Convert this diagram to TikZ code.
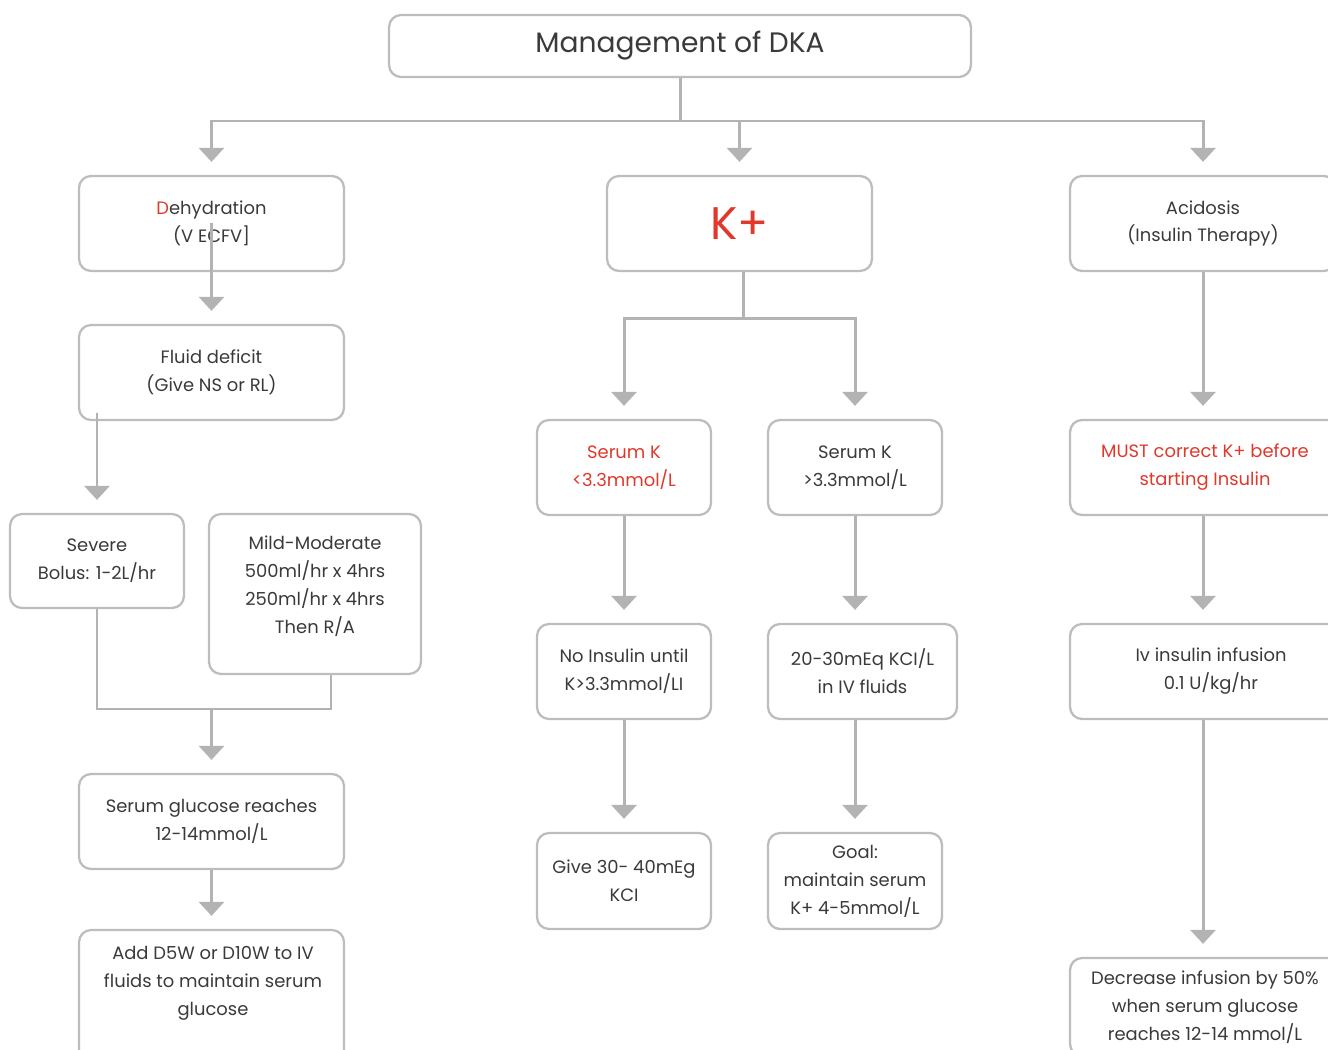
\documentclass[tikz,border=0pt]{standalone}
\usepackage{fontspec}
\setmainfont{Poppins}
\usetikzlibrary{arrows.meta}
\definecolor{linegray}{HTML}{B3B3B3}
\definecolor{boxgray}{HTML}{BDBDBD}
\definecolor{txtgray}{HTML}{3A3A3A}
\definecolor{alertred}{HTML}{E0392B}

\begin{document}
\begin{tikzpicture}[x=0.02cm, y=-0.02cm, >={Triangle[width=0.5cm,length=0.28cm]},
    txt/.style={align=center, text=txtgray, font=\fontsize{10.2}{15.9}\selectfont, inner sep=0pt},
    box/.style={txt, draw=boxgray, line width=1.3pt, rounded corners=0.24cm, fill=white},
    link/.style={draw=linegray, line width=1.7pt},
    arr/.style={link, ->, color=linegray, shorten >=0.26cm}]
    \useasboundingbox (0,0) rectangle (1328,1050);
    \clip (0,0) rectangle (1328,1050);

    % Title
    \node[box, minimum width=11.64cm, minimum height=1.24cm, font=\fontsize{16}{19}\selectfont] (title) at (680,46) {Management of DKA};

    % Fluids column
    \node[box, minimum width=5.3cm, minimum height=1.9cm] (dehyd) at (211.5,223.5) {\textcolor{alertred}{D}ehydration\\(V ECFV]};
    \node[box, minimum width=5.3cm, minimum height=1.9cm] (fluid) at (211.5,372.5) {Fluid deficit\\(Give NS or RL)};
    \node[box, minimum width=3.48cm, minimum height=1.88cm] (severe) at (97,561) {Severe\\Bolus: 1-2L/hr};
    \node[box, minimum width=4.24cm, minimum height=3.2cm] (mild) at (315,594) {};
    \node[txt] (mildtxt) at (315,586) {Mild-Moderate\\500ml/hr x 4hrs\\250ml/hr x 4hrs\\Then R/A};
    \node[box, minimum width=5.3cm, minimum height=1.9cm] (gluc) at (211.5,821.5) {Serum glucose reaches\\12-14mmol/L};
    \node[box, minimum width=5.3cm, minimum height=2.8cm] (add) at (211.5,1000) {};
    \node[txt] (addtxt) at (213,983) {Add D5W or D10W to IV\\fluids to maintain serum\\glucose};

    % Potassium column
    \node[box, minimum width=5.3cm, minimum height=1.9cm, font=\fontsize{26}{30}\selectfont, text=alertred] (kplus) at (739.5,223.5) {K+};
    \node[box, minimum width=3.48cm, minimum height=1.9cm, text=alertred] (klow) at (624,467.5) {Serum K\\<3.3mmol/L};
    \node[box, minimum width=3.48cm, minimum height=1.9cm] (khigh) at (855,467.5) {Serum K\\>3.3mmol/L};
    \node[box, minimum width=3.48cm, minimum height=1.9cm] (noins) at (624,671.5) {No Insulin until\\K>3.3mmol/LI};
    \node[box, minimum width=3.78cm, minimum height=1.9cm] (kcl) at (862.5,671.5) {20-30mEq KCI/L\\in IV fluids};
    \node[box, minimum width=3.48cm, minimum height=1.92cm] (give) at (624,881) {Give 30- 40mEg\\KCI};
    \node[box, minimum width=3.48cm, minimum height=1.92cm] (goal) at (855,881) {Goal:\\maintain serum\\K+ 4-5mmol/L};

    % Insulin column
    \node[box, minimum width=5.32cm, minimum height=1.9cm] (acid) at (1203,223.5) {Acidosis\\(Insulin Therapy)};
    \node[box, minimum width=5.4cm, minimum height=1.9cm, text=alertred] (must) at (1205,467.5) {MUST correct K+ before\\starting Insulin};
    \node[box, minimum width=5.64cm, minimum height=1.9cm] (ivins) at (1211,671.5) {Iv insulin infusion\\0.1 U/kg/hr};
    \node[box, minimum width=5.4cm, minimum height=1.96cm] (decr) at (1205,1007) {Decrease infusion by 50\%\\when serum glucose\\reaches 12-14 mmol/L};

    % Top branches
    \coordinate (split) at (680,121);
    \draw[link] (title.south) -- (split);
    \draw[arr] (split) -| (dehyd.north);
    \draw[arr] (split) -| (acid.north);
    \draw[arr] (kplus.north |- split) -- (kplus.north);

    % Fluids
    \draw[arr] (dehyd.center) -- (fluid.north);
    \coordinate (fluidout) at (97,413);
    \draw[arr] (fluidout) -- (severe.north);
    \coordinate (merge) at (211.5,709);
    \draw[link] (severe.south) |- (merge) -| ([xshift=0.32cm]mild.south);
    \draw[arr] (merge) -- (gluc.north);
    \draw[arr] (gluc) -- (add);

    % Potassium
    \path (kplus.south) ++(3.5,46) coordinate (ksplit);
    \draw[link] (kplus.south -| ksplit) -- (ksplit);
    \draw[arr] (ksplit) -| (klow.north);
    \draw[arr] (ksplit) -| (khigh.north);
    \draw[arr] (klow) -- (noins);
    \draw[arr] (noins) -- (give);
    \draw[arr] (khigh) -- (khigh |- kcl.north);
    \draw[arr] (kcl.south -| goal) -- (goal);

    % Insulin
    \draw[arr] (acid) -- (acid |- must.north);
    \draw[arr] (must.south -| acid) -- (acid |- ivins.north);
    \draw[arr] (ivins.south -| acid) -- (acid |- decr.north);
\end{tikzpicture}
\end{document}
